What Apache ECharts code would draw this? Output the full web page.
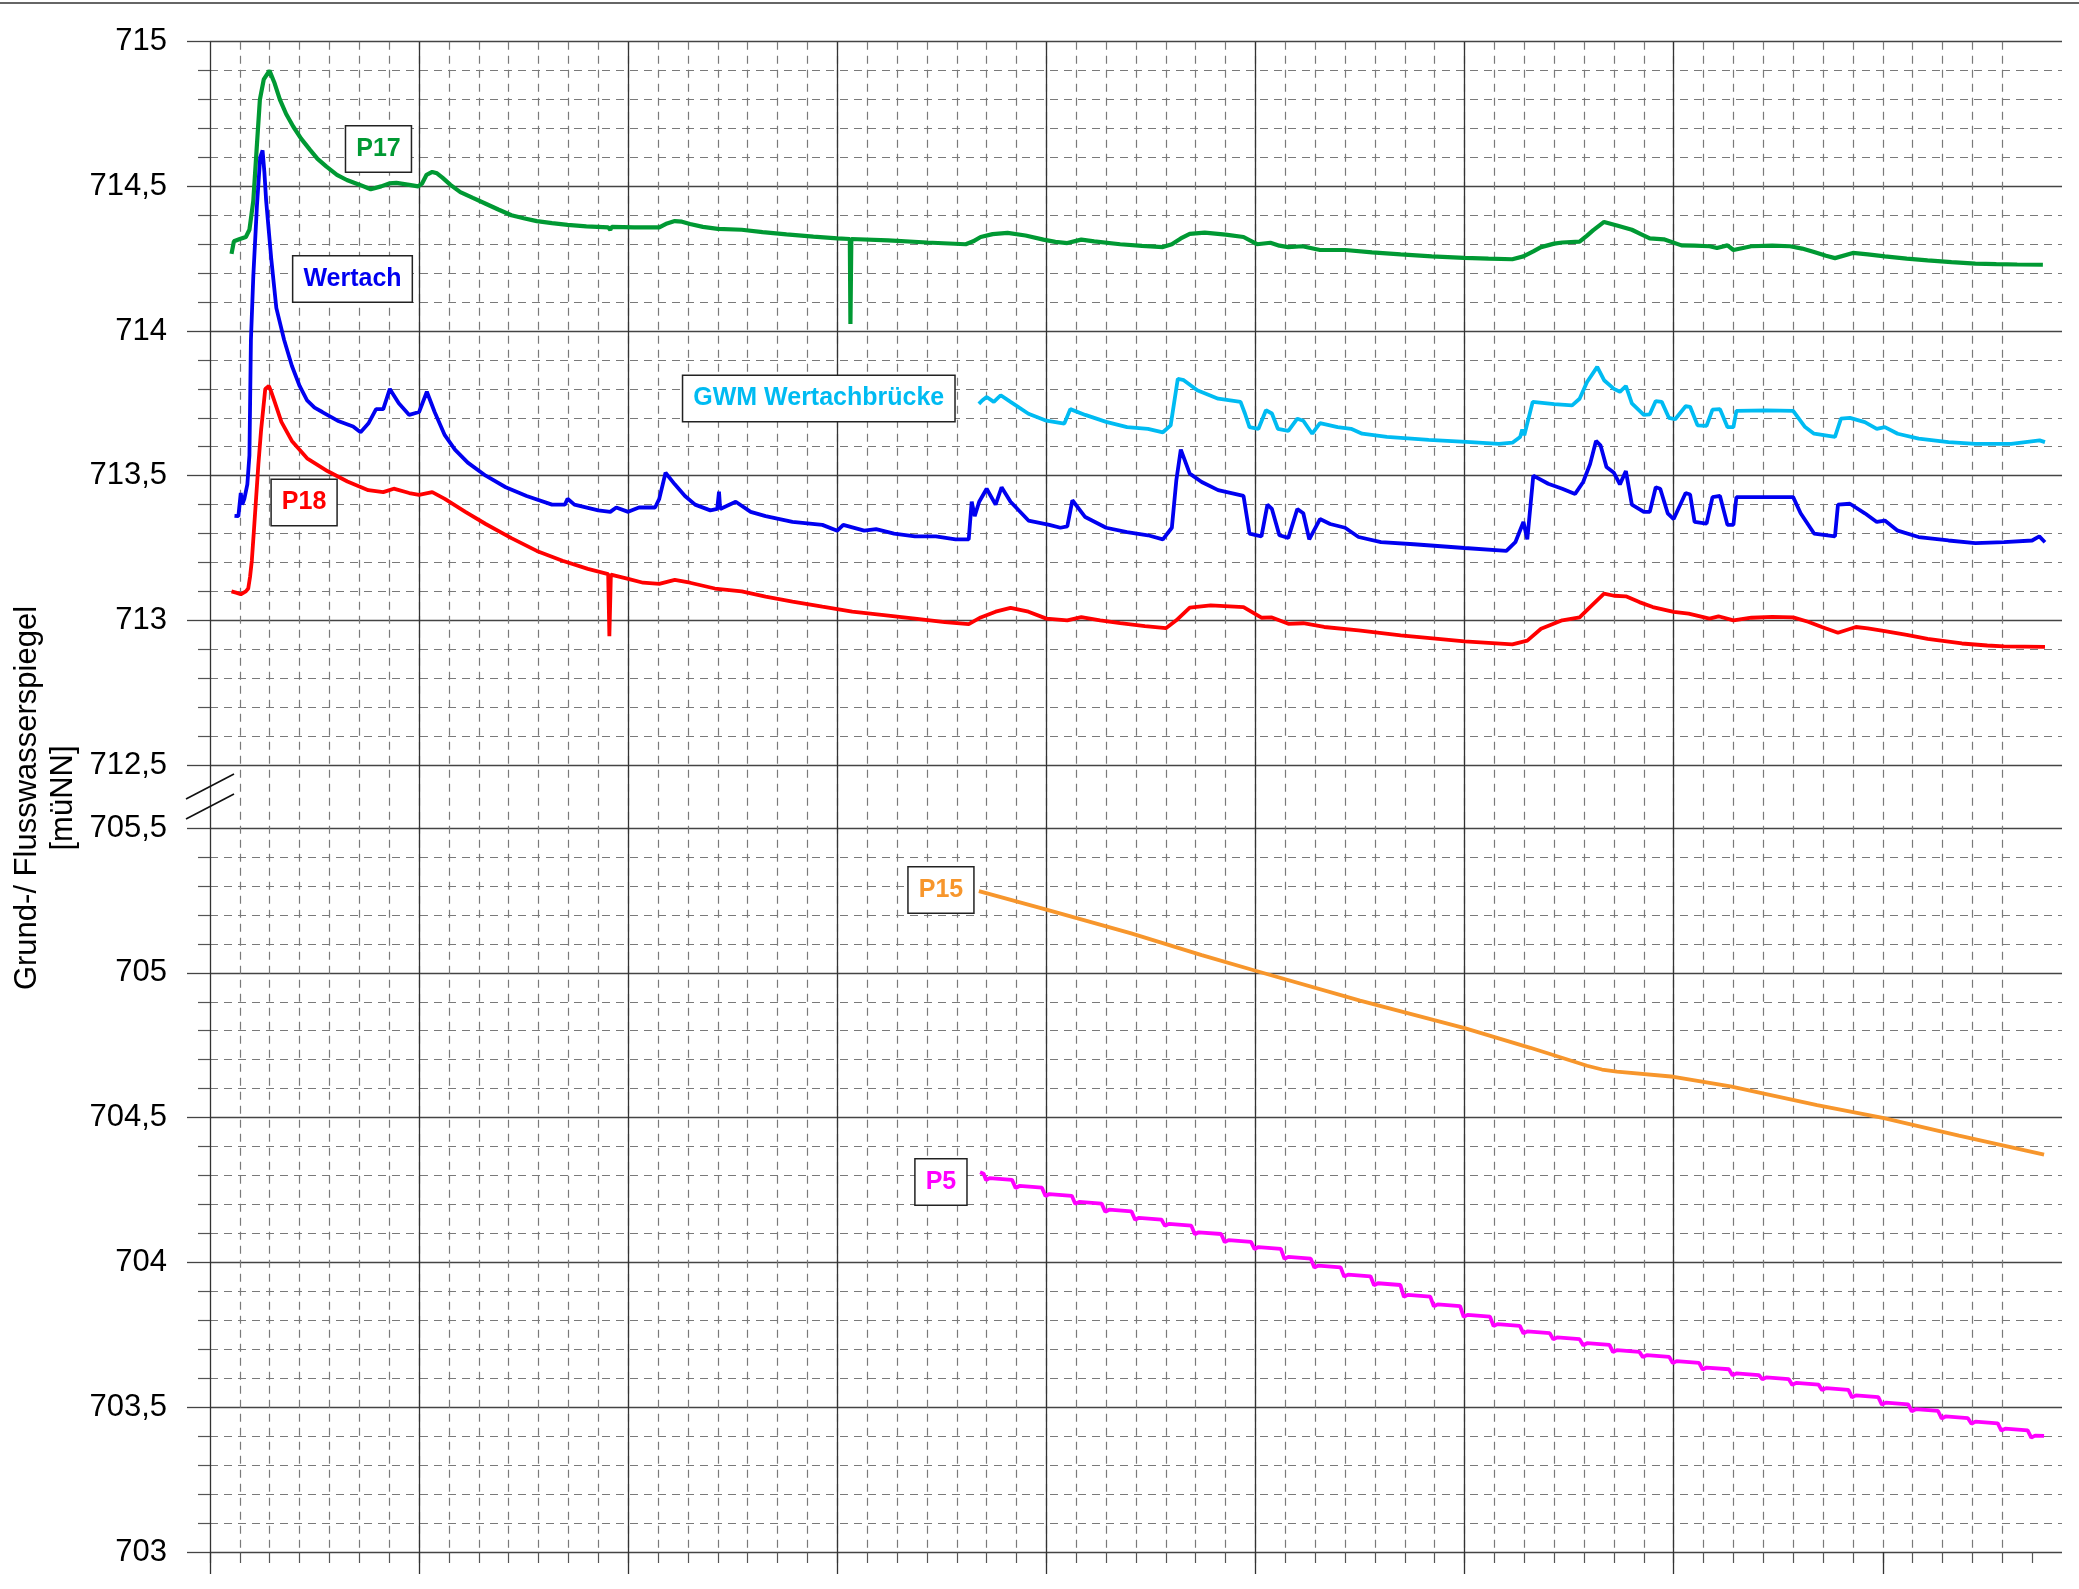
<!DOCTYPE html>
<html><head><meta charset="utf-8">
<script src="https://cdn.jsdelivr.net/npm/echarts@6/dist/echarts.min.js"></script>
<style>html,body{margin:0;padding:0;background:#fff}#c{width:2079px;height:1589px}</style>
</head><body><div id="c"></div>
<script>
// ---- axis ranges / ticks ----
const dayRange = [0, 62];
const upperRange = [712.5, 715];
const lowerRange = [703, 705.5];
const yStep = 0.5;

// ---- series data: [day, water level m uNN] ----
const p17 = [[0.72,714.267],[0.8,714.31],[1.0,714.318],[1.2,714.325],[1.32,714.35],[1.45,714.45],[1.56,714.626],[1.67,714.80],[1.8,714.87],[1.99,714.90],[2.15,714.86],[2.34,714.80],[2.55,714.75],[2.79,714.706],[3.05,714.665],[3.35,714.626],[3.6,714.595],[3.9,714.568],[4.25,714.54],[4.58,714.522],[5.02,714.505],[5.38,714.49],[5.73,714.50],[6.0,714.51],[6.24,714.512],[6.67,714.505],[6.97,714.50],[7.1,714.51],[7.25,714.54],[7.44,714.55],[7.6,714.545],[7.78,714.53],[8.05,714.505],[8.38,714.48],[8.8,714.46],[9.23,714.44],[9.65,714.42],[10.09,714.40],[10.5,714.39],[10.94,714.38],[11.45,714.373],[11.97,714.367],[12.6,714.362],[13.33,714.358],[13.4,714.35],[13.45,714.36],[14.2,714.358],[15.04,714.358],[15.3,714.372],[15.56,714.38],[15.8,714.378],[16.07,714.37],[16.5,714.36],[17.0,714.353],[17.05,714.358],[17.8,714.35],[18.5,714.342],[19.3,714.334],[20.2,714.326],[21.0,714.32],[21.42,714.318],[21.44,714.024],[21.47,714.318],[22.7,714.313],[24.0,714.306],[25.3,714.30],[25.55,714.31],[25.8,714.325],[26.2,714.335],[26.7,714.339],[27.3,714.33],[27.9,714.316],[28.3,714.308],[28.7,714.304],[29.17,714.316],[29.6,714.31],[30.47,714.30],[31.2,714.294],[31.9,714.29],[32.2,714.30],[32.5,714.32],[32.8,714.336],[33.3,714.34],[34.0,714.333],[34.6,714.325],[35.05,714.30],[35.5,714.305],[35.8,714.295],[36.1,714.29],[36.57,714.293],[37.16,714.28],[38.0,714.28],[38.9,714.272],[39.86,714.265],[40.9,714.258],[41.98,714.253],[42.8,714.25],[43.6,714.248],[43.97,714.258],[44.3,714.275],[44.56,714.29],[45.0,714.302],[45.27,714.306],[45.85,714.309],[46.1,714.33],[46.3,714.348],[46.67,714.377],[47.1,714.365],[47.6,714.35],[47.9,714.335],[48.2,714.32],[48.67,714.317],[49.26,714.296],[49.7,714.295],[50.2,714.293],[50.45,714.287],[50.8,714.296],[51.0,714.28],[51.6,714.293],[52.3,714.295],[52.9,714.293],[53.3,714.285],[53.7,714.273],[54.1,714.26],[54.4,714.252],[55.0,714.27],[55.5,714.265],[56.07,714.258],[56.8,714.25],[57.5,714.244],[58.3,714.238],[59.1,714.233],[59.8,714.231],[60.5,714.23],[61.36,714.229]];

const wertach = [[0.82,713.361],[0.95,713.36],[1.03,713.44],[1.08,713.40],[1.15,713.42],[1.25,713.47],[1.32,713.57],[1.37,713.97],[1.45,714.19],[1.57,714.43],[1.68,714.60],[1.76,714.624],[1.82,714.55],[1.88,714.45],[2.05,714.25],[2.22,714.08],[2.48,713.97],[2.74,713.88],[3.0,713.81],[3.25,713.76],[3.5,713.735],[3.76,713.72],[4.27,713.69],[4.79,713.67],[5.04,713.65],[5.3,713.68],[5.56,713.73],[5.8,713.73],[6.02,713.80],[6.32,713.75],[6.67,713.71],[7.0,713.72],[7.26,713.79],[7.52,713.72],[7.86,713.64],[8.2,713.59],[8.63,713.545],[9.23,713.50],[9.9,713.46],[10.6,713.43],[11.45,713.40],[11.88,713.40],[11.97,713.42],[12.2,713.40],[13.0,713.38],[13.4,713.375],[13.6,713.39],[14.0,713.375],[14.36,713.39],[14.9,713.39],[15.04,713.42],[15.25,713.51],[15.56,713.47],[15.9,713.43],[16.24,713.40],[16.75,713.38],[16.98,713.385],[17.04,713.445],[17.08,713.385],[17.6,713.41],[18.1,713.375],[18.6,713.36],[19.5,713.34],[20.5,713.33],[21.0,713.31],[21.2,713.33],[21.9,713.31],[22.3,713.315],[22.9,713.30],[23.6,713.29],[24.3,713.29],[24.96,713.28],[25.4,713.28],[25.5,713.41],[25.6,713.36],[25.75,713.41],[26.0,713.455],[26.3,713.40],[26.5,713.46],[26.8,713.41],[27.4,713.345],[28.1,713.33],[28.47,713.32],[28.7,713.325],[28.87,713.415],[29.3,713.357],[30.0,713.32],[30.7,713.305],[31.4,713.294],[31.9,713.28],[32.2,713.32],[32.35,713.484],[32.5,713.59],[32.8,713.507],[33.2,713.478],[33.75,713.45],[34.6,713.43],[34.8,713.30],[35.2,713.29],[35.4,713.40],[35.55,713.385],[35.8,713.294],[36.1,713.285],[36.4,713.385],[36.6,713.37],[36.8,713.28],[37.16,713.35],[37.5,713.333],[38.0,713.32],[38.45,713.288],[39.2,713.27],[40.3,713.263],[42.0,713.25],[43.4,713.24],[43.7,713.27],[43.97,713.34],[44.1,713.28],[44.3,713.50],[44.8,713.472],[45.27,713.455],[45.7,713.437],[45.97,713.478],[46.2,713.54],[46.4,713.62],[46.55,713.605],[46.75,713.53],[47.0,713.51],[47.2,713.47],[47.4,713.516],[47.6,713.40],[48.0,713.375],[48.2,713.375],[48.4,713.46],[48.55,713.455],[48.8,713.37],[49.0,713.35],[49.4,713.44],[49.55,713.435],[49.7,713.34],[50.1,713.334],[50.3,713.426],[50.55,713.43],[50.8,713.33],[51.0,713.33],[51.1,713.426],[52.1,713.426],[53.0,713.426],[53.25,713.37],[53.7,713.30],[54.4,713.29],[54.5,713.40],[54.9,713.403],[55.4,713.37],[55.8,713.34],[56.07,713.345],[56.5,713.31],[57.2,713.288],[58.2,713.276],[59.1,713.267],[60.06,713.27],[61.0,713.276],[61.24,713.29],[61.43,713.27]];

const p18 = [[0.72,713.10],[0.9,713.095],[1.03,713.09],[1.2,713.10],[1.28,713.11],[1.34,713.15],[1.4,713.206],[1.47,713.31],[1.54,713.417],[1.62,713.54],[1.71,713.657],[1.85,713.80],[1.97,713.81],[2.05,713.79],[2.14,713.763],[2.39,713.686],[2.74,713.62],[3.25,713.56],[3.93,713.516],[4.6,713.48],[5.3,713.45],[5.8,713.443],[6.15,713.455],[6.67,713.44],[7.0,713.434],[7.44,713.443],[7.86,713.42],[8.55,713.375],[9.23,713.333],[10.09,713.284],[10.94,713.24],[11.8,713.206],[12.65,713.178],[13.33,713.16],[13.37,712.945],[13.42,713.158],[14.0,713.143],[14.5,713.13],[15.04,713.126],[15.56,713.14],[16.07,713.13],[16.9,713.11],[17.8,713.10],[18.6,713.082],[19.5,713.065],[20.5,713.047],[21.5,713.03],[22.56,713.018],[23.6,713.006],[24.6,712.994],[25.4,712.987],[25.8,713.01],[26.3,713.03],[26.8,713.043],[27.4,713.03],[28.0,713.006],[28.7,713.0],[29.17,713.011],[29.8,713.0],[30.47,712.99],[31.3,712.98],[32.0,712.973],[32.35,713.0],[32.8,713.044],[33.5,713.052],[34.6,713.046],[35.2,713.009],[35.55,713.01],[36.1,712.988],[36.6,712.99],[37.3,712.977],[38.45,712.965],[39.86,712.948],[42.0,712.927],[43.6,712.917],[44.1,712.93],[44.56,712.971],[45.27,713.0],[45.85,713.01],[46.2,713.046],[46.67,713.092],[47.0,713.085],[47.4,713.083],[47.85,713.063],[48.3,713.046],[49.0,713.029],[49.5,713.023],[50.2,713.006],[50.5,713.014],[51.0,713.0],[51.6,713.009],[52.3,713.012],[53.0,713.01],[53.5,712.995],[53.96,712.977],[54.5,712.957],[55.1,712.977],[55.5,712.972],[56.07,712.963],[56.8,712.95],[57.5,712.936],[58.65,712.92],[59.5,712.913],[60.06,712.91],[61.43,712.908]];

const gwm = [[25.74,713.748],[25.85,713.76],[26.0,713.772],[26.24,713.755],[26.47,713.778],[26.8,713.755],[27.4,713.714],[28.0,713.69],[28.6,713.68],[28.8,713.73],[29.3,713.71],[30.0,713.686],[30.7,713.668],[31.4,713.662],[31.9,713.65],[32.16,713.674],[32.4,713.835],[32.6,713.83],[33.05,713.795],[33.75,713.766],[34.5,713.755],[34.65,713.714],[34.8,713.668],[35.1,713.662],[35.35,713.726],[35.55,713.715],[35.75,713.662],[36.1,713.655],[36.4,713.697],[36.6,713.69],[36.9,713.645],[37.16,713.682],[37.75,713.668],[38.2,713.662],[38.57,713.645],[39.4,713.634],[40.8,713.624],[42.2,713.616],[43.15,713.61],[43.6,713.614],[43.86,713.634],[43.93,713.66],[44.0,713.64],[44.28,713.755],[44.6,713.752],[45.0,713.747],[45.6,713.743],[45.85,713.766],[46.1,713.824],[46.44,713.876],[46.67,713.83],[47.0,713.80],[47.2,713.79],[47.4,713.81],[47.6,713.75],[48.0,713.71],[48.2,713.712],[48.4,713.758],[48.6,713.755],[48.84,713.70],[49.05,713.695],[49.4,713.74],[49.55,713.738],[49.8,713.674],[50.1,713.672],[50.3,713.728],[50.55,713.73],[50.8,713.668],[51.0,713.668],[51.1,713.724],[52.1,713.726],[53.0,713.724],[53.4,713.668],[53.7,713.645],[54.4,713.634],[54.6,713.697],[54.9,713.70],[55.4,713.685],[55.8,713.662],[56.07,713.668],[56.5,713.645],[57.2,713.628],[58.2,713.616],[59.1,713.61],[60.3,713.61],[61.25,713.622],[61.43,713.616]];

const p15 = [[25.74,705.282],[28.0,705.218],[30.84,705.136],[33.2,705.061],[35.0,705.007],[38.5,704.904],[42.0,704.809],[44.2,704.741],[46.1,704.679],[46.6,704.666],[47.1,704.659],[49.0,704.641],[50.9,704.608],[53.8,704.543],[56.0,704.499],[58.55,704.438],[61.4,704.372]];

const p5 = [[25.78,704.311],[25.9,704.306],[25.98,704.284],
[26.1,704.291],[26.85,704.285],[26.97,704.257],
[27.1,704.264],[27.85,704.258],[27.97,704.229],
[28.1,704.236],[28.85,704.230],[28.97,704.202],
[29.1,704.209],[29.85,704.203],[29.97,704.175],
[30.1,704.182],[30.85,704.176],[30.97,704.147],
[31.1,704.154],[31.85,704.148],[31.97,704.126],
[32.1,704.133],[32.85,704.127],[32.97,704.097],
[33.1,704.104],[33.85,704.098],[33.97,704.070],
[34.1,704.077],[34.85,704.071],[34.97,704.046],
[35.1,704.053],[35.85,704.047],[35.97,704.012],
[36.1,704.019],[36.85,704.013],[36.97,703.982],
[37.1,703.989],[37.85,703.983],[37.97,703.951],
[38.1,703.958],[38.85,703.952],[38.97,703.921],
[39.1,703.928],[39.85,703.922],[39.97,703.881],
[40.1,703.888],[40.85,703.882],[40.97,703.848],
[41.1,703.855],[41.85,703.849],[41.97,703.812],
[42.1,703.819],[42.85,703.813],[42.97,703.780],
[43.1,703.787],[43.85,703.781],[43.97,703.755],
[44.1,703.762],[44.85,703.756],[44.97,703.734],
[45.1,703.741],[45.85,703.735],[45.97,703.714],
[46.1,703.721],[46.85,703.715],[46.97,703.690],
[47.1,703.697],[47.85,703.691],[47.97,703.673],
[48.1,703.680],[48.85,703.674],[48.97,703.652],
[49.1,703.659],[49.85,703.653],[49.97,703.630],
[50.1,703.637],[50.85,703.631],[50.97,703.610],
[51.1,703.617],[51.85,703.611],[51.97,703.596],
[52.1,703.603],[52.85,703.597],[52.97,703.577],
[53.1,703.584],[53.85,703.578],[53.97,703.559],
[54.1,703.566],[54.85,703.560],[54.97,703.534],
[55.1,703.541],[55.85,703.535],[55.97,703.509],
[56.1,703.516],[56.85,703.510],[56.97,703.486],
[57.1,703.493],[57.85,703.487],[57.97,703.461],
[58.1,703.468],[58.85,703.462],[58.97,703.443],
[59.1,703.450],[59.85,703.444],[59.97,703.419],
[60.1,703.426],[60.85,703.420],[60.97,703.395],
[61.1,703.402],[61.4,703.401]];

// ---- names ----
const names = ['P17', 'Wertach', 'P18', 'GWM Wertachbrücke', 'P15', 'P5'];

// ---- styling / layout ----
const FONT = "'Liberation Sans', Arial, Helvetica, sans-serif";
const colors = {P17:'#009933', Wertach:'#0000F0', P18:'#FF0000', GWM:'#00BBF2', P15:'#F7962C', P5:'#FF00FF'};
const L = 210, R = 17;
const gridBase = {containLabel:false, outerBoundsMode:'none'};
const gridUpper = Object.assign({left:L, right:R, top:41.7, bottom:1589-765}, gridBase);
const gridLower = Object.assign({left:L, right:R, top:828, bottom:1589-1552}, gridBase);
const gridBg = Object.assign({left:L, right:R, top:41.7, bottom:1589-1552}, gridBase);

const commaFmt = v => String(v).replace('.', ',');
function yAxisCfg(gi, range){
  return {
    type:'value', gridIndex:gi, position:'left', min:range[0], max:range[1], interval:yStep,
    axisLine:{show:false},
    axisTick:{show:true, length:23, lineStyle:{color:'#444', width:1.3}},
    minorTick:{show:true, splitNumber:5, length:12, lineStyle:{color:'#555', width:1.2}},
    axisLabel:{formatter:commaFmt, fontSize:31, fontFamily:FONT, color:'#000', margin:43},
    splitLine:{show:true, lineStyle:{color:'#444', width:1.3}},
    minorSplitLine:{show:true, lineStyle:{color:'#7a7a7a', width:1.2, type:[8,6]}}
  };
}
const hiddenX = gi => ({type:'value', gridIndex:gi, position:'bottom', min:dayRange[0], max:dayRange[1], show:false});

const minorDays = []; for (let d = dayRange[0]; d < dayRange[1]; d++) minorDays.push(d);
const majorDays = []; for (let d = dayRange[0]; d < dayRange[1]; d += 7) majorDays.push(d);

function labelPoint(name, coord, color){
  return {
    symbol:'rect', symbolSize:1, silent:true, itemStyle:{color:'rgba(0,0,0,0)'},
    label:{show:true, position:'inside', formatter:name, fontSize:25, fontWeight:'bold', fontFamily:FONT,
      color:color, backgroundColor:'#fff', borderColor:'#222', borderWidth:1.5, padding:[10,10,9,10], lineHeight:26},
    data:[{coord:coord, name:name}]
  };
}
function line(name, data, color, xi, yi, lbl, w){
  return {name:name, type:'line', xAxisIndex:xi, yAxisIndex:yi, data:data, showSymbol:false, symbol:'none',
    lineStyle:{color:color, width:w||3.8}, itemStyle:{color:color}, z:3,
    markPoint: lbl};
}

const chart = echarts.init(document.getElementById('c'), null, {renderer:'canvas'});
chart.setOption({
  animation:false,
  backgroundColor:'#fff',
  grid:[gridUpper, gridLower, gridBg],
  xAxis:[
    hiddenX(0), hiddenX(1),
    {type:'value', gridIndex:2, position:'bottom', offset:0, min:dayRange[0], max:dayRange[1], interval:1,
      axisLine:{show:false}, axisLabel:{show:false},
      axisTick:{show:true, length:11, customValues:minorDays, lineStyle:{color:'#555', width:1.2}},
      splitLine:{show:true, showMinLine:false, showMaxLine:false, lineStyle:{color:'#7a7a7a', width:1.2, type:[8,6]}}},
    {type:'value', gridIndex:2, position:'bottom', offset:0, min:dayRange[0], max:dayRange[1], interval:7,
      axisLine:{show:false}, axisLabel:{show:false},
      axisTick:{show:true, length:22, customValues:majorDays, lineStyle:{color:'#333', width:1.3}},
      splitLine:{show:true, showMaxLine:false, lineStyle:{color:'#333', width:1.3}}}
  ],
  yAxis:[
    yAxisCfg(0, upperRange), yAxisCfg(1, lowerRange),
    {type:'value', gridIndex:2, position:'left', min:0, max:1, show:false}
  ],
  graphic:[
    {type:'line', shape:{x1:0, y1:3, x2:2079, y2:3}, style:{stroke:'#333', lineWidth:1.5}, z:10},
    {type:'line', shape:{x1:186, y1:799, x2:234, y2:774}, style:{stroke:'#111', lineWidth:1.6}, z:10},
    {type:'line', shape:{x1:186, y1:819, x2:234, y2:794}, style:{stroke:'#111', lineWidth:1.6}, z:10},
    {type:'text', x:27, y:798, rotation:Math.PI/2,
      style:{text:'Grund-/ Flusswasserspiegel', font:'31px ' + FONT, fill:'#000', textAlign:'center', textVerticalAlign:'middle'}},
    {type:'text', x:63, y:798, rotation:Math.PI/2,
      style:{text:'[müNN]', font:'31px ' + FONT, fill:'#000', textAlign:'center', textVerticalAlign:'middle'}}
  ],
  series:[
    line(names[0], p17, colors.P17, 0, 0, labelPoint(names[0], [5.64, 714.629], colors.P17), 4.2),
    line(names[3], gwm, colors.GWM, 0, 0, labelPoint(names[3], [20.38, 713.767], colors.GWM)),
    line(names[2], p18, colors.P18, 0, 0, labelPoint(names[2], [3.15, 713.407], colors.P18)),
    line(names[1], wertach, colors.Wertach, 0, 0, labelPoint(names[1], [4.77, 714.18], colors.Wertach)),
    line(names[4], p15, colors.P15, 1, 1, labelPoint(names[4], [24.47, 705.286], colors.P15)),
    line(names[5], p5, colors.P5, 1, 1, labelPoint(names[5], [24.47, 704.278], colors.P5))
  ]
});
</script></body></html>
